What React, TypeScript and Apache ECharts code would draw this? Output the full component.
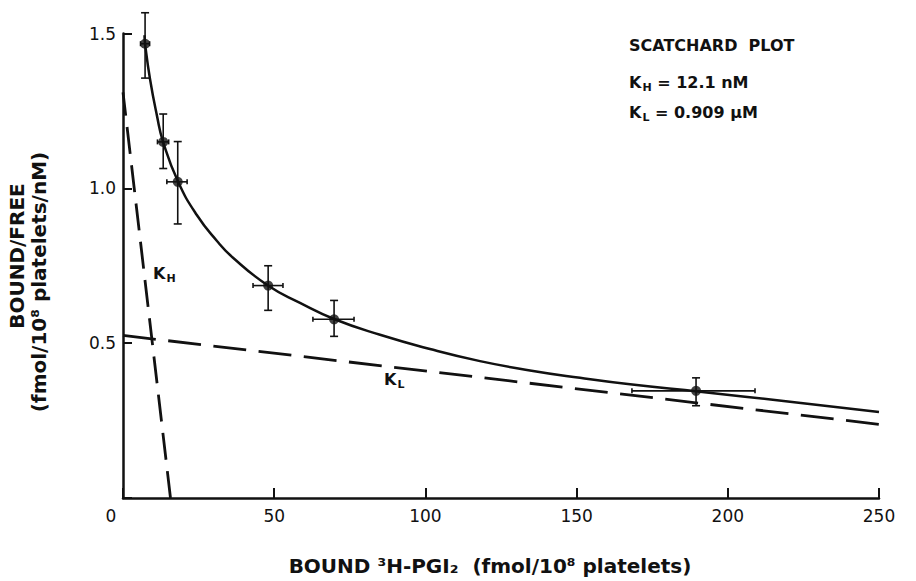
import React, { useEffect, useRef } from "react";
import * as echarts from "echarts";

// Measured data points: [x, y, xLow, xHigh, yLow, yHigh]
const pointsX = [7.3, 13.3, 18.1, 48.0, 69.8, 189.5];
const pointsY = [1.467, 1.15, 1.021, 0.686, 0.577, 0.346];
const xLow = [5.8, 11.4, 14.5, 43.0, 62.8, 168.3];
const xHigh = [8.8, 15.1, 21.2, 52.9, 76.4, 209.0];
const yLow = [1.356, 1.064, 0.885, 0.606, 0.522, 0.298];
const yHigh = [1.567, 1.24, 1.151, 0.75, 0.638, 0.388];

// Fitted curve
const curveX = [7.11, 7.28, 8.93, 11.24, 13.23, 18.19, 24.47, 31.08, 36.38, 47.95, 58.53, 69.77, 84.99, 101.52, 118.06, 134.59, 151.12, 167.66, 190.81, 220.57, 250];
const curveY = [1.494, 1.468, 1.353, 1.234, 1.151, 1.022, 0.913, 0.83, 0.776, 0.686, 0.63, 0.578, 0.527, 0.481, 0.442, 0.412, 0.388, 0.367, 0.343, 0.311, 0.278];

// Component lines (drawn from the axis end outward so both ends carry a dash)
const khX = [15.7, 0];
const khY = [0, 1.31];
const klX = [0, 250];
const klY = [0.525, 0.238];

const FONT = "'DejaVu Sans', 'Noto Sans', sans-serif";
const INK = "#111";

const kLabel = (sub: string, rest: string) => ({
  text: `{k|K}{s|${sub}}` + (rest ? `{t|${rest}}` : ""),
  align: "left",
  verticalAlign: "middle",
  rich: {
    k: { fill: INK, font: `bold 16px ${FONT}` },
    s: { fill: INK, font: `bold 11px ${FONT}`, padding: [10, 0, 0, 1] },
    t: { fill: INK, font: `bold 16px ${FONT}` },
  },
});

export default function App() {
  const ref = useRef<HTMLDivElement>(null);
  useEffect(() => {
    if (!ref.current) return;
    const chart = echarts.init(ref.current, undefined, { renderer: "svg" });
    const errData = pointsX.map((x, i) => [x, pointsY[i], xLow[i], xHigh[i], yLow[i], yHigh[i]]);
    const option: any = {
      animation: false,
      backgroundColor: "#fff",
      grid: { left: 123, right: 37, top: 33.5, bottom: 79 },
      xAxis: {
        type: "value",
        min: 0,
        max: 250,
        interval: 50,
        splitLine: { show: false },
        axisLine: { lineStyle: { color: INK, width: 2.5 } },
        axisTick: { inside: true, length: 10, lineStyle: { color: INK, width: 2 } },
        axisLabel: {
          margin: 9,
          color: INK,
          fontFamily: FONT,
          fontSize: 17,
          formatter: (v: number) => (v === 0 ? "{z|0}" : String(v)),
          rich: { z: { fontFamily: FONT, fontSize: 17, color: INK, padding: [0, 24, 0, 0] } },
        },
        name: "BOUND ³H-PGI₂  (fmol/10⁸ platelets)",
        nameLocation: "middle",
        nameGap: 58,
        nameTextStyle: { color: INK, fontFamily: FONT, fontSize: 20, fontWeight: "bold", padding: [0, 22, 0, 0] },
      },
      yAxis: {
        type: "value",
        min: 0,
        max: 1.5,
        interval: 0.5,
        splitLine: { show: false },
        axisLine: { show: true, lineStyle: { color: INK, width: 2.5 } },
        axisTick: { show: true, inside: true, length: 9, lineStyle: { color: INK, width: 2 } },
        axisLabel: {
          margin: 7,
          color: INK,
          fontFamily: FONT,
          fontSize: 17,
          formatter: (v: number) => (v === 0 ? "" : v.toFixed(1)),
        },
      },
      graphic: [
        {
          type: "text",
          x: 16.5,
          y: 256,
          rotation: Math.PI / 2,
          style: { text: "BOUND/FREE", fill: INK, font: `bold 20px ${FONT}`, align: "center", verticalAlign: "middle" },
        },
        {
          type: "text",
          x: 39,
          y: 282,
          rotation: Math.PI / 2,
          style: { text: "(fmol/10⁸ platelets/nM)", fill: INK, font: `bold 20px ${FONT}`, align: "center", verticalAlign: "middle" },
        },
        {
          type: "text",
          x: 629,
          y: 45,
          style: { text: "SCATCHARD  PLOT", fill: INK, font: `bold 16px ${FONT}`, align: "left", verticalAlign: "middle" },
        },
        { type: "text", x: 629, y: 82, style: kLabel("H", " = 12.1 nM") },
        { type: "text", x: 629, y: 112, style: kLabel("L", " = 0.909 μM") },
        { type: "text", x: 153, y: 273, style: kLabel("H", "") },
        { type: "text", x: 384, y: 379, style: kLabel("L", "") },
      ],
      series: [
        {
          type: "line",
          data: khX.map((x, i) => [x, khY[i]]),
          showSymbol: false,
          symbol: "none",
          lineStyle: { color: INK, width: 2.8, type: [27, 11.5] },
        },
        {
          type: "line",
          data: klX.map((x, i) => [x, klY[i]]),
          showSymbol: false,
          symbol: "none",
          lineStyle: { color: INK, width: 2.8, type: [33, 12.5] },
        },
        {
          type: "line",
          data: curveX.map((x, i) => [x, curveY[i]]),
          smooth: 0.5,
          showSymbol: false,
          symbol: "none",
          lineStyle: { color: INK, width: 2.5 },
        },
        {
          type: "custom",
          data: errData,
          clip: false,
          renderItem: (_p: any, api: any) => {
            const x = api.value(0);
            const y = api.value(1);
            const top = api.coord([x, api.value(5)]);
            const bot = api.coord([x, api.value(4)]);
            const l = api.coord([api.value(2), y]);
            const r = api.coord([api.value(3), y]);
            const style = { stroke: INK, lineWidth: 1.6, fill: "none" };
            const cw = 4;
            const ch = 2.5;
            return {
              type: "group",
              children: [
                { type: "line", shape: { x1: top[0], y1: top[1], x2: bot[0], y2: bot[1] }, style },
                { type: "line", shape: { x1: top[0] - cw, y1: top[1], x2: top[0] + cw, y2: top[1] }, style },
                { type: "line", shape: { x1: bot[0] - cw, y1: bot[1], x2: bot[0] + cw, y2: bot[1] }, style },
                { type: "line", shape: { x1: l[0], y1: l[1], x2: r[0], y2: r[1] }, style },
                { type: "line", shape: { x1: l[0], y1: l[1] - ch, x2: l[0], y2: l[1] + ch }, style },
                { type: "line", shape: { x1: r[0], y1: r[1] - ch, x2: r[0], y2: r[1] + ch }, style },
              ],
            };
          },
          z: 3,
        },
        {
          type: "scatter",
          data: pointsX.map((x, i) => [x, pointsY[i]]),
          symbol: "circle",
          symbolSize: 10,
          itemStyle: { color: INK },
          z: 4,
        },
      ],
    };
    chart.setOption(option);
    return () => chart.dispose();
  }, []);
  return <div ref={ref} style={{ position: "fixed", left: 0, top: 0, width: 916, height: 581 }} />;
}
